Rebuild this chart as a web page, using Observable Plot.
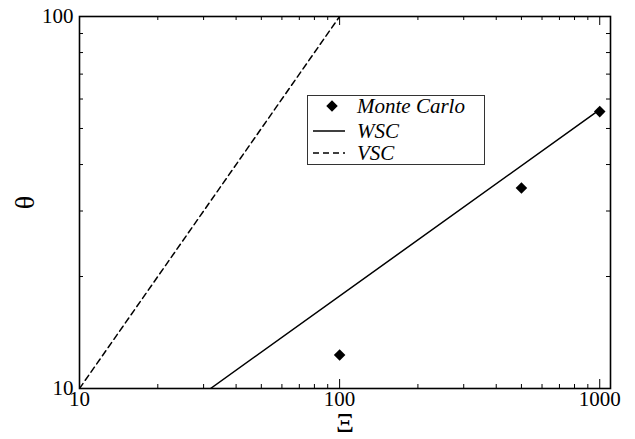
<!DOCTYPE html>
<html><head><meta charset="utf-8">
<script src="https://cdn.jsdelivr.net/npm/d3@7"></script>
<script src="https://cdn.jsdelivr.net/npm/@observablehq/plot@0.6"></script>
<style>body{margin:0;background:#fff}</style>
</head><body><div id="chart"></div>
<script>
const mcXi = [100, 500, 1000];
const mcTheta = [12.3, 34.6, 55.5];
const wscXi = [31.9, 1000];
const wscTheta = [10, 56.2];
const vscXi = [10, 100];
const vscTheta = [10, 100];
const xMajor = [10, 100, 1000];
const yMajor = [10, 100];
const xMinor = [20, 30, 40, 50, 60, 70, 80, 90, 200, 300, 400, 500, 600, 700, 800, 900];
const yMinor = [20, 30, 40, 50, 60, 70, 80, 90];
const legendLabels = ["Monte Carlo", "WSC", "VSC"];

const W = 635, H = 439, mL = 79, mR = 25, mT = 16, mB = 51;
const iW = W - mL - mR, iH = H - mT - mB;
const minor = 4, major = 9;

const mc = mcXi.map((x, i) => ({x, y: mcTheta[i]}));
const wsc = wscXi.map((x, i) => ({x, y: wscTheta[i]}));
const vsc = vscXi.map((x, i) => ({x, y: vscTheta[i]}));

const plot = Plot.plot({
  width: W, height: H,
  marginLeft: mL, marginRight: mR, marginTop: mT, marginBottom: mB,
  style: {fontFamily: "'Liberation Serif', 'DejaVu Serif', serif", fontSize: "21px", background: "#fff", color: "#000"},
  x: {type: "log", domain: [10, 1100]},
  y: {type: "log", domain: [10, 100]},
  marks: [
    Plot.line(vsc, {x: "x", y: "y", stroke: "black", strokeWidth: 1.5, strokeDasharray: "6,4", clip: true}),
    Plot.line(wsc, {x: "x", y: "y", stroke: "black", strokeWidth: 1.5, clip: true}),
    Plot.dot(mc, {x: "x", y: "y", symbol: "diamond2", r: 5.2, fill: "black", stroke: "none"}),
    // inward ticks
    Plot.tickX(xMinor, {x: d => d, insetTop: iH - minor, stroke: "black"}),
    Plot.tickX(xMinor, {x: d => d, insetBottom: iH - minor, stroke: "black"}),
    Plot.tickX(xMajor, {x: d => d, insetTop: iH - major, stroke: "black"}),
    Plot.tickX(xMajor, {x: d => d, insetBottom: iH - major, stroke: "black"}),
    Plot.tickY(yMinor, {y: d => d, insetRight: iW - minor, stroke: "black"}),
    Plot.tickY(yMinor, {y: d => d, insetLeft: iW - minor, stroke: "black"}),
    Plot.axisX({ticks: xMajor, tickSize: 0, tickPadding: 3, tickFormat: d => String(d), label: null, fontSize: 21}),
    Plot.axisY({ticks: yMajor, tickSize: 0, tickPadding: 6, tickFormat: d => String(d), label: null, fontSize: 21}),
    Plot.frame({stroke: "black", strokeWidth: 1.6}),
    Plot.text(["θ"], {frameAnchor: "left", dx: -54, rotate: -90, textAnchor: "middle", lineAnchor: "middle", fontSize: 28}),
    Plot.text(["Ξ"], {frameAnchor: "bottom", dy: 35, textAnchor: "middle", lineAnchor: "middle", fontSize: 28})
  ]
});
document.getElementById("chart").appendChild(plot);

// legend
const svg = d3.select(plot);
const g = svg.append("g").attr("font-family", "'Liberation Serif', serif").attr("font-size", 21).attr("font-style", "italic").attr("text-anchor", "start");
g.append("rect").attr("x", 307.5).attr("y", 95.5).attr("width", 177).attr("height", 69)
  .attr("fill", "white").attr("stroke", "#333").attr("stroke-width", 1);
const rows = [106, 131, 153];
g.append("path").attr("d", d3.symbol(d3.symbolDiamond2, Math.PI * 27)()).attr("transform", `translate(332,${rows[0]})`).attr("fill", "black");
g.append("line").attr("x1", 313).attr("x2", 345).attr("y1", rows[1]).attr("y2", rows[1]).attr("stroke", "black").attr("stroke-width", 1.5);
g.append("line").attr("x1", 313).attr("x2", 345).attr("y1", rows[2]).attr("y2", rows[2]).attr("stroke", "black").attr("stroke-width", 1.5).attr("stroke-dasharray", "6,4");
legendLabels.forEach((t, i) => {
  g.append("text").attr("x", 357).attr("y", rows[i]).attr("dy", "0.35em").attr("fill", "black").attr("text-anchor", "start").text(t);
});
</script>
</body></html>
